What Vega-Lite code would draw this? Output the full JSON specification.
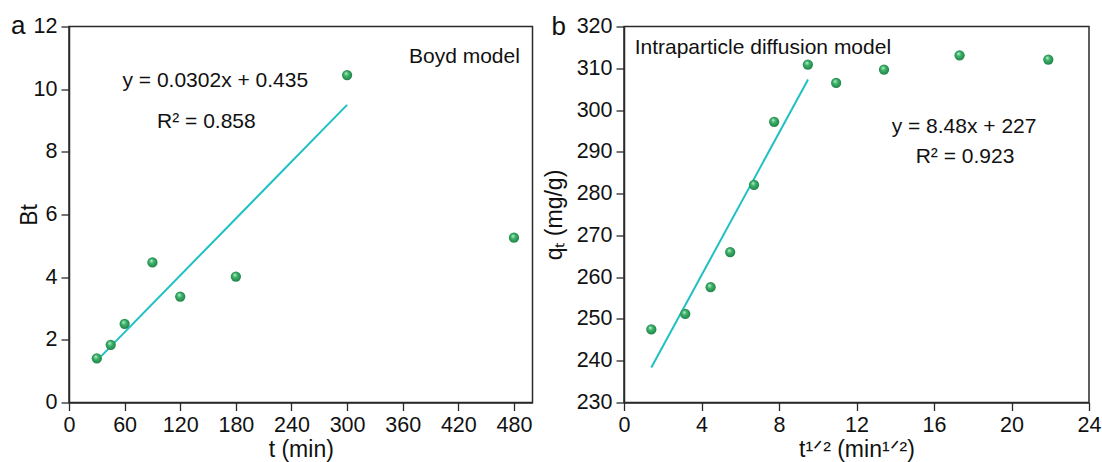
{
  "$schema": "https://vega.github.io/schema/vega-lite/v6.json",
  "background": "white",
  "padding": {"left": 10, "top": 11.5, "right": 0, "bottom": 0},
  "spacing": 8,
  "config": {
    "font": "Liberation Sans",
    "view": {"stroke": "#2a2a2a", "strokeWidth": 1.5},
    "axis": {
      "grid": false,
      "domainColor": "#2a2a2a",
      "domainWidth": 1.5,
      "tickColor": "#2a2a2a",
      "tickWidth": 1.3,
      "labelFont": "Liberation Sans",
      "labelFontSize": 21.5,
      "labelColor": "#111",
      "labelFlush": false,
      "labelOverlap": false,
      "titleFont": "Liberation Sans",
      "titleFontSize": 23,
      "titleFontWeight": "normal",
      "titleColor": "#111"
    },
    "text": {"font": "Liberation Sans", "color": "#111"}
  },
  "datasets": {
    "boyd": [
      {"t": 30, "Bt": 1.41},
      {"t": 45, "Bt": 1.84},
      {"t": 60, "Bt": 2.51},
      {"t": 90, "Bt": 4.47},
      {"t": 120, "Bt": 3.38},
      {"t": 180, "Bt": 4.02},
      {"t": 300, "Bt": 10.45},
      {"t": 480, "Bt": 5.26}
    ],
    "boydfit": [
      {"t": 34.8, "Bt": 1.48},
      {"t": 300, "Bt": 9.5}
    ],
    "ipd": [
      {"st": 1.41, "qt": 247.5},
      {"st": 3.16, "qt": 251.2},
      {"st": 4.47, "qt": 257.6},
      {"st": 5.48, "qt": 266.0},
      {"st": 6.71, "qt": 282.1},
      {"st": 7.75, "qt": 297.2},
      {"st": 9.49, "qt": 310.9},
      {"st": 10.95, "qt": 306.5},
      {"st": 13.42, "qt": 309.7},
      {"st": 17.32, "qt": 313.1},
      {"st": 21.9, "qt": 312.1}
    ],
    "ipdfit": [
      {"st": 1.41, "qt": 238.4},
      {"st": 9.5, "qt": 307.3}
    ]
  },
  "hconcat": [
    {
      "width": 463.5,
      "height": 376,
      "layer": [
        {
          "data": {"name": "boydfit"},
          "mark": {"type": "line", "color": "#1fc0c4", "strokeWidth": 2},
          "encoding": {
            "x": {"field": "t", "type": "quantitative"},
            "y": {"field": "Bt", "type": "quantitative"}
          }
        },
        {
          "data": {"name": "boyd"},
          "mark": {
            "type": "point", "filled": true, "size": 105, "opacity": 1,
            "color": {"gradient": "radial", "x1": 0.38, "y1": 0.32, "r1": 0, "x2": 0.5, "y2": 0.5, "r2": 0.55,
              "stops": [{"offset": 0, "color": "#c9f5d6"}, {"offset": 0.4, "color": "#3cb36a"}, {"offset": 1, "color": "#1e7d44"}]}
          },
          "encoding": {
            "x": {
              "field": "t", "type": "quantitative",
              "scale": {"domain": [0, 500], "nice": false, "zero": false},
              "axis": {
                "title": "t (min)",
                "values": [0, 30, 60, 90, 120, 150, 180, 210, 240, 270, 300, 330, 360, 390, 420, 450, 480],
                "labelExpr": "datum.value % 60 === 0 ? datum.label : ''",
                "tickSize": {"condition": {"test": "datum.value % 60 === 0", "value": 8}, "value": 4},
                "labelPadding": 4,
                "titlePadding": 2.5
              }
            },
            "y": {
              "field": "Bt", "type": "quantitative",
              "scale": {"domain": [0, 12], "nice": false},
              "axis": {
                "title": "Bt",
                "values": [0, 1, 2, 3, 4, 5, 6, 7, 8, 9, 10, 11, 12],
                "labelExpr": "datum.value % 2 === 0 ? datum.label : ''",
                "tickSize": {"condition": {"test": "datum.value % 2 === 0", "value": 8}, "value": 4},
                "labelPadding": 4,
                "titlePadding": -8
              }
            }
          }
        },
        {
          "data": {"values": [{}]},
          "mark": {"type": "text", "align": "right", "baseline": "alphabetic", "fontSize": 21, "text": "Boyd model"},
          "encoding": {"x": {"datum": 486.4}, "y": {"datum": 10.85}}
        },
        {
          "data": {"values": [{}]},
          "mark": {"type": "text", "align": "left", "baseline": "alphabetic", "fontSize": 21, "text": "y = 0.0302x + 0.435"},
          "encoding": {"x": {"datum": 57.7}, "y": {"datum": 10.06}}
        },
        {
          "data": {"values": [{}]},
          "mark": {"type": "text", "align": "left", "baseline": "alphabetic", "fontSize": 21, "text": "R² = 0.858"},
          "encoding": {"x": {"datum": 95}, "y": {"datum": 8.77}}
        },
        {
          "data": {"values": [{}]},
          "mark": {"type": "text", "align": "left", "baseline": "alphabetic", "fontSize": 26, "text": "a"},
          "encoding": {"x": {"datum": -62.5}, "y": {"datum": 11.76}}
        }
      ]
    },
    {
      "width": 465,
      "height": 376,
      "layer": [
        {
          "data": {"name": "ipdfit"},
          "mark": {"type": "line", "color": "#1fc0c4", "strokeWidth": 2},
          "encoding": {
            "x": {"field": "st", "type": "quantitative"},
            "y": {"field": "qt", "type": "quantitative"}
          }
        },
        {
          "data": {"name": "ipd"},
          "mark": {
            "type": "point", "filled": true, "size": 105, "opacity": 1,
            "color": {"gradient": "radial", "x1": 0.38, "y1": 0.32, "r1": 0, "x2": 0.5, "y2": 0.5, "r2": 0.55,
              "stops": [{"offset": 0, "color": "#c9f5d6"}, {"offset": 0.4, "color": "#3cb36a"}, {"offset": 1, "color": "#1e7d44"}]}
          },
          "encoding": {
            "x": {
              "field": "st", "type": "quantitative",
              "scale": {"domain": [0, 24], "nice": false, "zero": false},
              "axis": {
                "title": "t¹ᐟ² (min¹ᐟ²)",
                "values": [0, 2, 4, 6, 8, 10, 12, 14, 16, 18, 20, 22, 24],
                "labelExpr": "datum.value % 4 === 0 ? datum.label : ''",
                "tickSize": {"condition": {"test": "datum.value % 4 === 0", "value": 8}, "value": 4},
                "labelPadding": 4,
                "titlePadding": 2.5
              }
            },
            "y": {
              "field": "qt", "type": "quantitative",
              "scale": {"domain": [230, 320], "nice": false, "zero": false},
              "axis": {
                "title": "qₜ (mg/g)",
                "values": [230, 235, 240, 245, 250, 255, 260, 265, 270, 275, 280, 285, 290, 295, 300, 305, 310, 315, 320],
                "labelExpr": "datum.value % 10 === 0 ? datum.label : ''",
                "tickSize": {"condition": {"test": "datum.value % 10 === 0", "value": 8}, "value": 4},
                "labelPadding": 4,
                "titlePadding": 10
              }
            }
          }
        },
        {
          "data": {"values": [{}]},
          "mark": {"type": "text", "align": "left", "baseline": "alphabetic", "fontSize": 21, "text": "Intraparticle diffusion model"},
          "encoding": {"x": {"datum": 0.55}, "y": {"datum": 313.5}}
        },
        {
          "data": {"values": [{}]},
          "mark": {"type": "text", "align": "center", "baseline": "alphabetic", "fontSize": 21, "text": "y = 8.48x + 227"},
          "encoding": {"x": {"datum": 17.55}, "y": {"datum": 294.5}}
        },
        {
          "data": {"values": [{}]},
          "mark": {"type": "text", "align": "center", "baseline": "alphabetic", "fontSize": 21, "text": "R² = 0.923"},
          "encoding": {"x": {"datum": 17.6}, "y": {"datum": 287.3}}
        },
        {
          "data": {"values": [{}]},
          "mark": {"type": "text", "align": "left", "baseline": "alphabetic", "fontSize": 26, "text": "b"},
          "encoding": {"x": {"datum": -3.74}, "y": {"datum": 318.0}}
        }
      ]
    }
  ]
}
